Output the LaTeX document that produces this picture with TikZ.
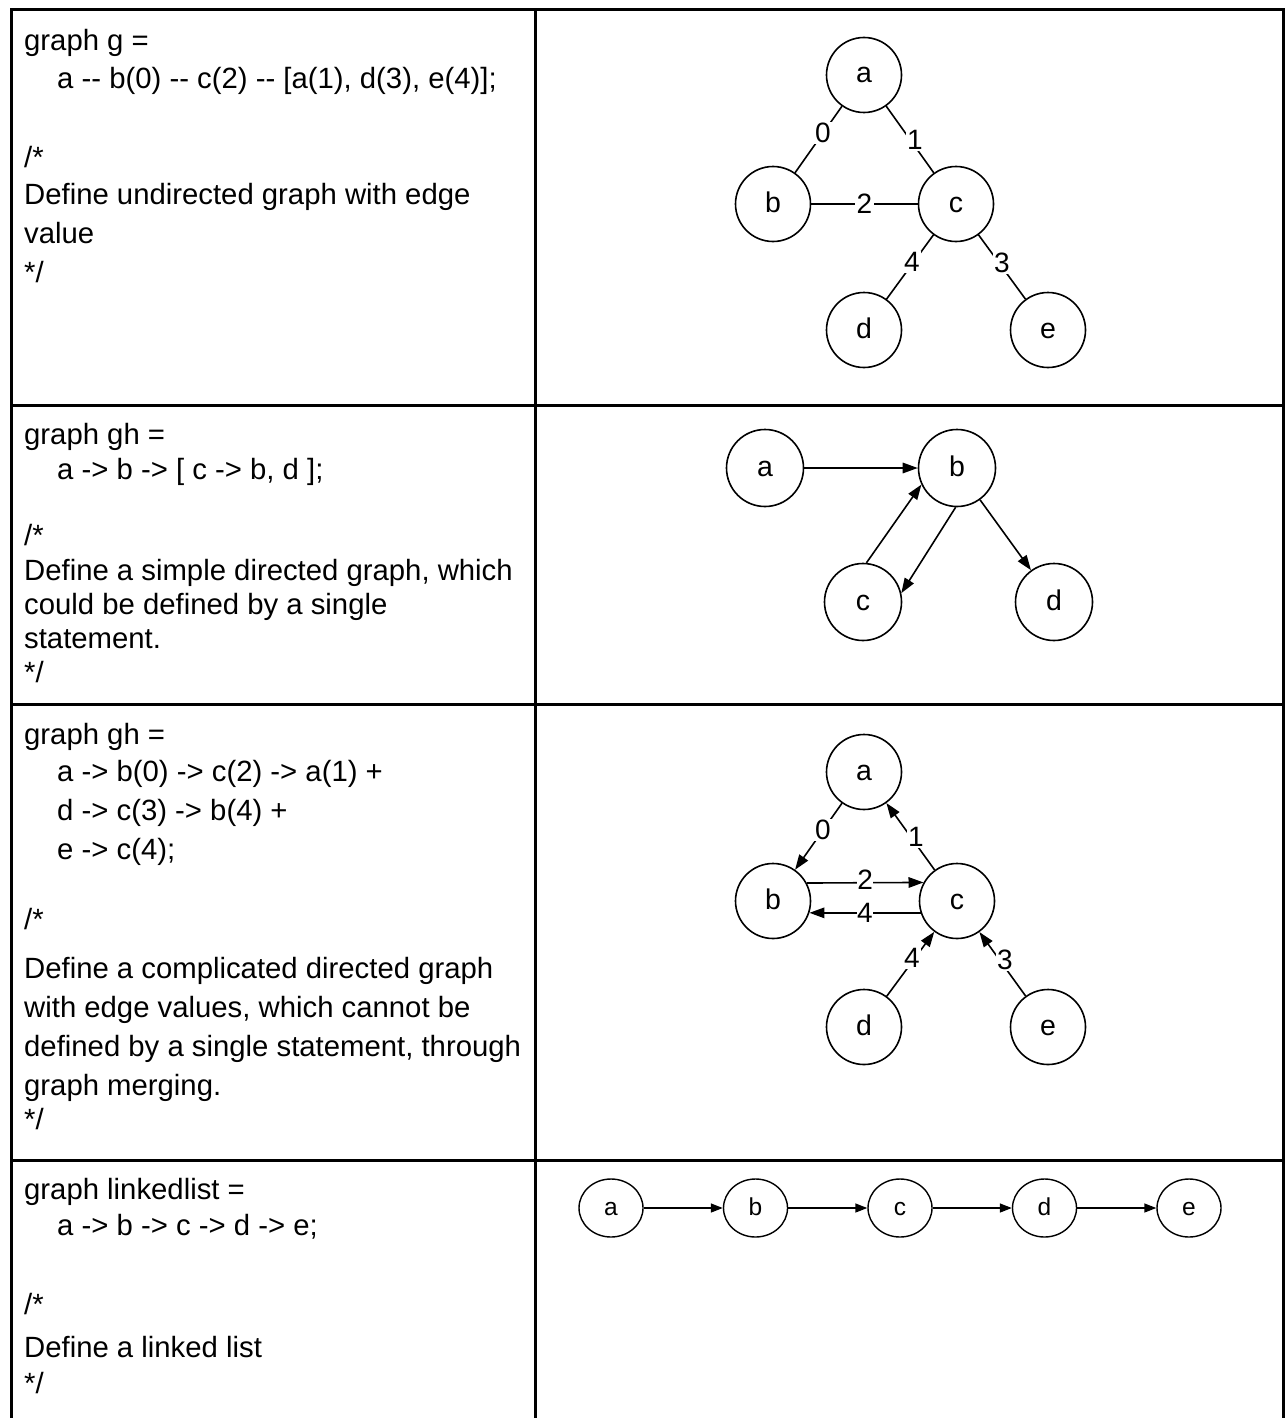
\documentclass[tikz,border=0pt]{standalone}
\usepackage{fontspec}
\setmainfont{Liberation Sans}
\usetikzlibrary{arrows.meta,shapes.geometric}
\begin{document}
\begin{tikzpicture}[x=1pt,y=-1pt,
  txt/.style={anchor=base west, inner sep=0pt, font=\fontsize{29.3}{34}\selectfont},
  nd/.style={circle, draw, line width=1.6pt, minimum size=75pt, inner sep=0pt, text height=16pt, text depth=0pt, font=\fontsize{28.5}{32}\selectfont},
  ndb/.style={nd, minimum size=77pt},
  lnd/.style={ellipse, draw, line width=1.4pt, minimum width=64pt, minimum height=58pt, inner sep=0pt, text height=14pt, text depth=0pt, font=\fontsize{24.5}{27}\selectfont},
  lbl/.style={fill=white, inner sep=1.5pt, font=\fontsize{28}{30}\selectfont},
  edge/.style={line width=1.6pt},
  arr/.style={edge, -{Triangle[length=15pt,width=10.5pt]}},
  larr/.style={line width=1.4pt, -{Triangle[length=12pt,width=9pt]}},
  grid/.style={line width=3pt}]
\useasboundingbox (0,0) rectangle (1285,1418);
% table
\draw[grid] (11,1418) -- (11,9.5) -- (1283.5,9.5) -- (1283.5,1418);
\draw[grid] (535,9.5) -- (535,1418);
\draw[grid] (11,405) -- (1283.5,405);
\draw[grid] (11,704) -- (1283.5,704);
\draw[grid] (11,1160) -- (1283.5,1160);
% row 1 text
\node[txt] (t11) at (24,51) {graph g =};
\node[txt] (t12) at (57,89) {a -{}- b(0) -{}- c(2) -{}- [a(1), d(3), e(4)];};
\node[txt] (t13) at (24,167) {/*};
\node[txt] (t14) at (24,204) {Define undirected graph with edge};
\node[txt] (t15) at (24,243) {value};
\node[txt] (t16) at (24,282) {*/};
% row 2 text
\node[txt] (t21) at (24,444) {graph gh =};
\node[txt] (t22) at (57,479) {a -> b -> [ c -> b, d ];};
\node[txt] (t23) at (24,545) {/*};
\node[txt] (t24) at (24,580) {Define a simple directed graph, which};
\node[txt] (t25) at (24,614) {could be defined by a single};
\node[txt] (t26) at (24,648) {statement.};
\node[txt] (t27) at (24,682) {*/};
% row 3 text
\node[txt] (t31) at (24,744) {graph gh =};
\node[txt] (t32) at (57,781) {a -> b(0) -> c(2) -> a(1) +};
\node[txt] (t33) at (57,820) {d -> c(3) -> b(4) +};
\node[txt] (t34) at (57,859) {e -> c(4);};
\node[txt] (t35) at (24,929) {/*};
\node[txt] (t36) at (24,978) {Define a complicated directed graph};
\node[txt] (t37) at (24,1017) {with edge values, which cannot be};
\node[txt] (t38) at (24,1056) {defined by a single statement, through};
\node[txt] (t39) at (24,1095) {graph merging.};
\node[txt] (t3a) at (24,1129) {*/};
% row 4 text
\node[txt] (t41) at (24,1199) {graph linkedlist =};
\node[txt] (t42) at (57,1235) {a -> b -> c -> d -> e;};
\node[txt] (t43) at (24,1314) {/*};
\node[txt] (t44) at (24,1357) {Define a linked list};
\node[txt] (t45) at (24,1393) {*/};
% graph 1
\node[nd] (a1) at (864,75) {a};
\node[nd] (b1) at (773,204) {b};
\node[nd] (c1) at (956,204) {c};
\node[nd] (d1) at (864,330) {d};
\node[nd] (e1) at (1048,330) {e};
\draw[edge] (a1) -- node[lbl, xshift=4.5pt, yshift=6.5pt] {0} (b1);
\draw[edge] (a1) -- node[lbl, xshift=5pt] {1} (c1);
\draw[edge] (b1) -- node[lbl] {2} (c1);
\draw[edge] (c1) -- node[lbl, xshift=2pt, yshift=5pt] {4} (d1);
\draw[edge] (c1) -- node[lbl, yshift=4pt] {3} (e1);
% graph 2
\node[ndb] (a2) at (765,468) {a};
\node[ndb] (b2) at (957,468) {b};
\node[ndb] (c2) at (863,602) {c};
\node[ndb] (d2) at (1054,602) {d};
\draw[arr] (a2) -- (b2);
\draw[arr] (c2.85) -- (b2.205);
\draw[arr] (b2.268) -- (c2.13);
\draw[arr] (b2) -- (d2);
% graph 3
\node[nd] (a3) at (864,772) {a};
\node[nd] (b3) at (773,901) {b};
\node[nd] (c3) at (957,901) {c};
\node[nd] (d3) at (864,1027) {d};
\node[nd] (e3) at (1048,1027) {e};
\draw[arr] (a3) -- node[lbl, xshift=4.5pt, yshift=6.5pt] {0} (b3);
\draw[arr] (c3) -- node[lbl, xshift=5.5pt] {1} (a3);
\draw[arr] (b3.28.7) -- node[lbl, yshift=3pt, inner sep=0.5pt] {2} (c3.151.3);
\draw[arr] (c3.198.7) -- node[lbl, inner sep=0.5pt] {4} (b3.-18.7);
\draw[arr] (d3) -- node[lbl, xshift=1.5pt, yshift=6pt] {4} (c3);
\draw[arr] (e3) -- node[lbl, xshift=2.5pt, yshift=4pt] {3} (c3);
% graph 4
\node[lnd] (a4) at (611,1208) {a};
\node[lnd] (b4) at (755.5,1208) {b};
\node[lnd] (c4) at (900,1208) {c};
\node[lnd] (d4) at (1044.5,1208) {d};
\node[lnd] (e4) at (1189,1208) {e};
\draw[larr] (a4) -- (b4);
\draw[larr] (b4) -- (c4);
\draw[larr] (c4) -- (d4);
\draw[larr] (d4) -- (e4);
\end{tikzpicture}
\end{document}
